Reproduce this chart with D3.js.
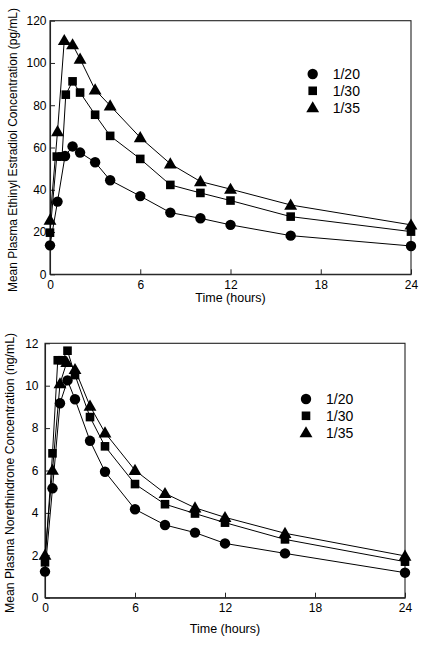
<!DOCTYPE html>
<html><head><meta charset="utf-8">
<script src="https://cdn.jsdelivr.net/npm/d3@7"></script>
<style>body{margin:0;background:#fff}svg{display:block}text{font-family:"Liberation Sans",Arial,Helvetica,sans-serif;fill:#000}</style>
</head><body>
<svg id="c" width="433" height="649"></svg>
<script>
// ---- data: top panel (Ethinyl Estradiol, pg/mL) ----
const seriesNames = ["1/20", "1/30", "1/35"];
const xTicks = [0, 6, 12, 18, 24];
const eeYTicks = [0, 20, 40, 60, 80, 100, 120];
const eeT20 = [0, 0.5, 1, 1.5, 2, 3, 4, 6, 8, 10, 12, 16, 24];
const eeV20 = [13.7, 34.4, 56, 60.5, 57.6, 53, 44.5, 37, 29.2, 26.5, 23.4, 18.3, 13.4];
const eeT30 = [0, 0.45, 0.8, 1.05, 1.5, 2, 3, 4, 6, 8, 10, 12, 16, 24];
const eeV30 = [19.7, 55.7, 55.7, 85, 91.3, 86, 75.5, 65.5, 54.6, 42.3, 38.5, 34.9, 27.3, 20.2];
const eeT35 = [0, 0.5, 0.95, 1.5, 2, 3, 4, 6, 8, 10, 12, 16, 24];
const eeV35 = [25.7, 67.6, 110.7, 108.7, 101.9, 87.3, 79.8, 64.7, 52.3, 43.9, 40.3, 32.8, 23.4];
// ---- data: bottom panel (Norethindrone, ng/mL) ----
const netYTicks = [0, 2, 4, 6, 8, 10, 12];
const netT20 = [0, 0.5, 1, 1.5, 2, 3, 4, 6, 8, 10, 12, 16, 24];
const netV20 = [1.23, 5.16, 9.17, 10.25, 9.36, 7.4, 5.94, 4.17, 3.43, 3.07, 2.56, 2.09, 1.18];
const netT30 = [0, 0.5, 0.85, 1.15, 1.5, 2, 3, 4, 6, 8, 10, 12, 16, 24];
const netV30 = [1.67, 6.81, 11.2, 11.2, 11.65, 10.5, 8.52, 7.14, 5.36, 4.41, 3.97, 3.54, 2.75, 1.7];
const netT35 = [0, 0.5, 1, 1.45, 2, 3, 4, 6, 8, 10, 12, 16, 24];
const netV35 = [2.01, 6.02, 10.1, 11.1, 10.77, 9.04, 7.78, 6.01, 4.92, 4.24, 3.79, 3.04, 1.97];

const svg = d3.select("#c");
const symbols = [d3.symbolCircle, d3.symbolSquare, d3.symbolTriangle];
const symSizes = [85, 74, 72];

function panel(cfg) {
  const x = d3.scaleLinear().domain([0, 24]).range([cfg.left, cfg.right]);
  const y = d3.scaleLinear().domain([0, cfg.yMax]).range([cfg.bottom, cfg.top]);
  const g = svg.append("g");
  // frame
  g.append("rect").attr("x", cfg.left).attr("y", cfg.top)
    .attr("width", cfg.right - cfg.left).attr("height", cfg.bottom - cfg.top)
    .attr("fill", "none").attr("stroke", "#222").attr("stroke-width", 1.1);
  const xa = g.append("g").attr("transform", `translate(0,${cfg.bottom})`)
    .call(d3.axisBottom(x).tickValues(xTicks).tickSizeInner(-5).tickSizeOuter(0).tickPadding(6));
  const ya = g.append("g").attr("transform", `translate(${cfg.left},0)`)
    .call(d3.axisLeft(y).tickValues(cfg.yTicks).tickSizeInner(-5).tickSizeOuter(0).tickPadding(cfg.yPad));
  [xa, ya].forEach(a => {
    a.select(".domain").attr("stroke", "#222").attr("stroke-width", 1.1);
    a.selectAll(".tick line").attr("stroke", "#222");
    a.selectAll("text").style("font-size", "12px").attr("fill", "#000");
  });
  const line = d3.line().x(d => x(d[0])).y(d => y(d[1]));
  cfg.series.forEach((s, i) => {
    const pts = s.t.map((t, k) => [t, s.v[k]]);
    g.append("path").datum(pts).attr("d", line).attr("fill", "none")
      .attr("stroke", "#000").attr("stroke-width", 1);
  });
  cfg.series.forEach((s, i) => {
    const pts = s.t.map((t, k) => [t, s.v[k]]);
    g.selectAll(null).data(pts).enter().append("path")
      .attr("d", d3.symbol().type(symbols[i]).size(symSizes[i]))
      .attr("transform", d => `translate(${x(d[0])},${y(d[1]) + (i === 2 ? 1 : 0)})`)
      .attr("fill", "#000");
  });
  // legend
  seriesNames.forEach((n, i) => {
    const ly = cfg.legY + i * 16.8;
    g.append("path").attr("d", d3.symbol().type(symbols[i]).size(symSizes[i]))
      .attr("transform", `translate(${cfg.legX},${ly + (i === 2 ? 1 : 0)})`).attr("fill", "#000");
    g.append("text").attr("x", cfg.legX + 20).attr("y", ly + 5).style("font-size", "14px").text(n);
  });
  // titles
  g.append("text").attr("x", (cfg.left + cfg.right) / 2).attr("y", cfg.xTitleY)
    .attr("text-anchor", "middle").style("font-size", "12.5px").text("Time (hours)");
  g.append("text").attr("transform", `translate(${cfg.yTitleX},${cfg.yTitleC}) rotate(-90)`)
    .attr("text-anchor", "middle").style("font-size", "12.2px")
    .attr("textLength", cfg.yTitleLen).attr("lengthAdjust", "spacingAndGlyphs").text(cfg.yTitle);
}

panel({
  left: 50, right: 411, top: 20.7, bottom: 274.3, yMax: 120, yTicks: eeYTicks, yPad: 3.5,
  series: [{t: eeT20, v: eeV20}, {t: eeT30, v: eeV30}, {t: eeT35, v: eeV35}],
  legX: 312.7, legY: 74, xTitleY: 302, yTitleX: 17, yTitleC: 150, yTitleLen: 284,
  yTitle: "Mean Plasma Ethinyl Estradiol Concentration (pg/mL)"
});
panel({
  left: 45, right: 405, top: 343.3, bottom: 597.7, yMax: 12, yTicks: netYTicks, yPad: 6.5,
  series: [{t: netT20, v: netV20}, {t: netT30, v: netV30}, {t: netT35, v: netV35}],
  legX: 306, legY: 399, xTitleY: 633, yTitleX: 14, yTitleC: 473, yTitleLen: 280,
  yTitle: "Mean Plasma Norethindrone Concentration (ng/mL)"
});
</script>
</body></html>
